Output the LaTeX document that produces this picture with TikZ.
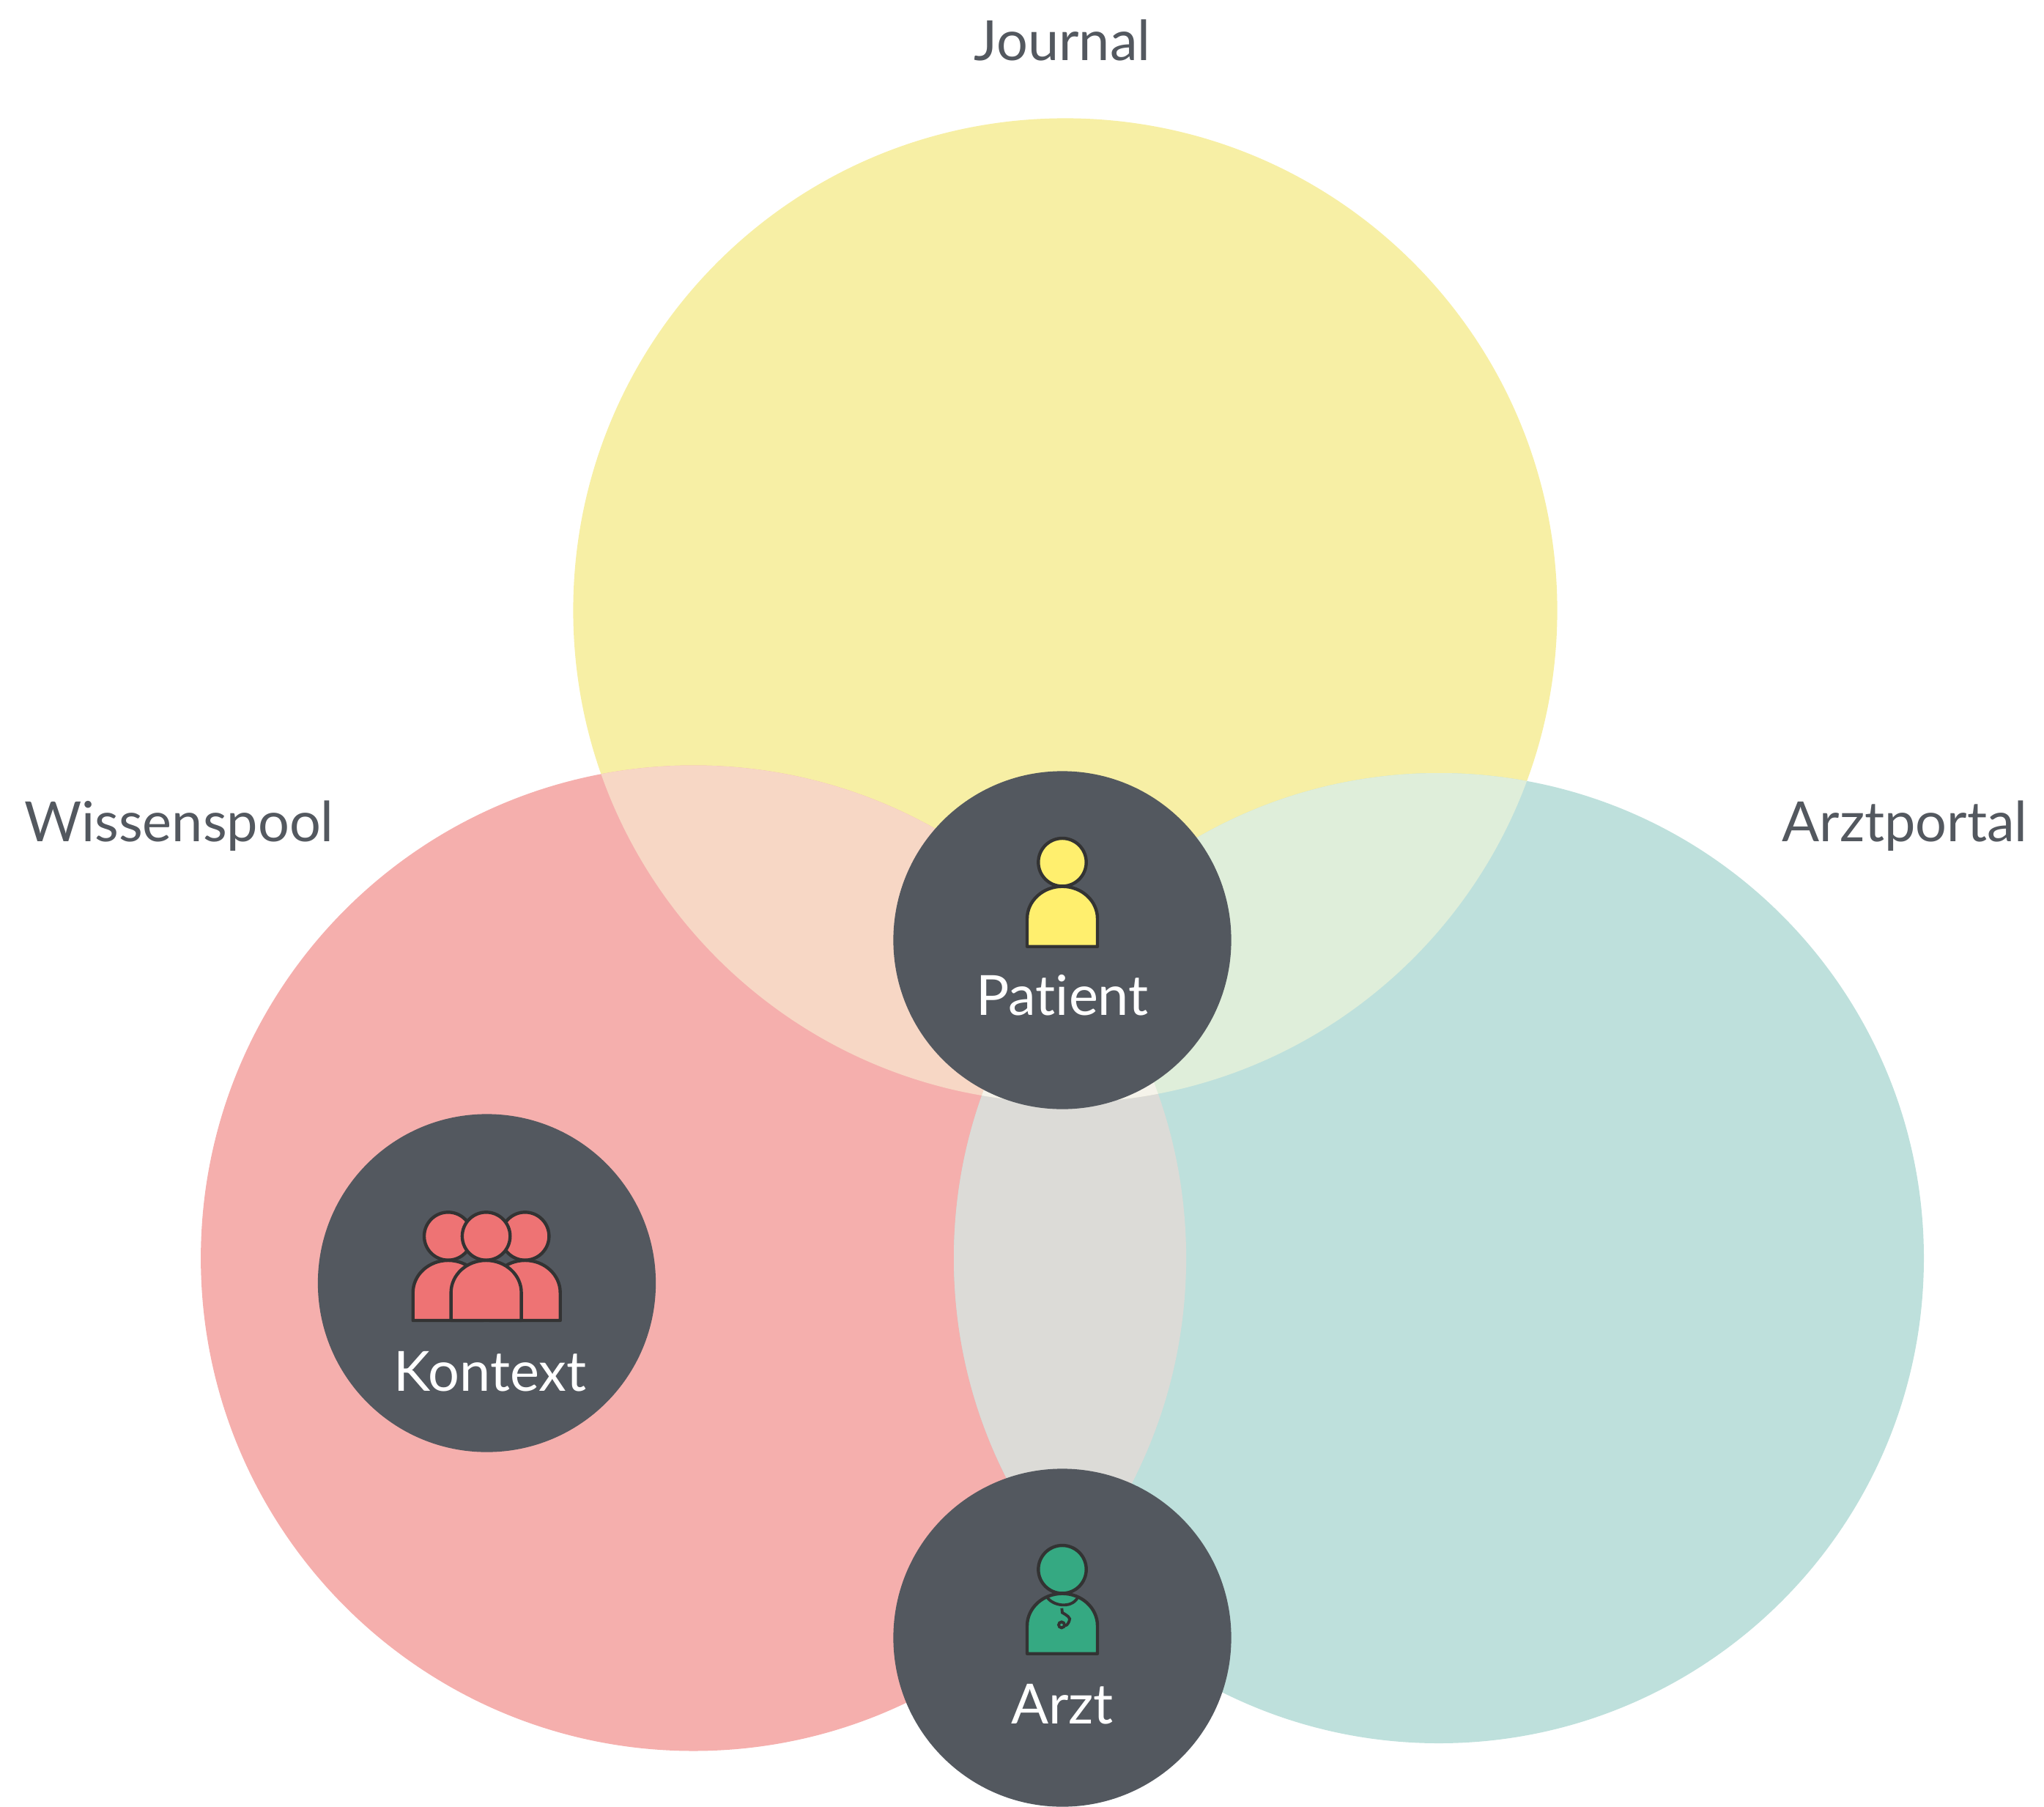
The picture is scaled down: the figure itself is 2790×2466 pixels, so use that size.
\documentclass[tikz,border=0pt]{standalone}
\usepackage{fontspec}
\setmainfont[Ligatures=NoCommon]{Lato}
\usepackage{xcolor}
\definecolor{journalc}{HTML}{F7EFA5}
\definecolor{poolc}{HTML}{F5AFAD}
\definecolor{portalc}{HTML}{BEE0DC}
\definecolor{journalpool}{HTML}{F7D7C5}
\definecolor{journalportal}{HTML}{DFEEDA}
\definecolor{poolportal}{HTML}{DCDBD7}
\definecolor{allthree}{HTML}{F5F3EA}
\definecolor{slate}{HTML}{53585F}
\definecolor{iconline}{HTML}{333333}
\definecolor{iconyellow}{HTML}{FFEF6E}
\definecolor{iconred}{HTML}{EE7374}
\definecolor{icongreen}{HTML}{35A982}

\begin{document}
\begin{tikzpicture}[x=0.01cm, y=-0.01cm]
  \tikzset{
    person/.pic={
      \path[pic actions, draw=iconline, line width=1.25pt, line join=round] (0,0) circle (32.7);
      \path[pic actions, draw=iconline, line width=1.25pt, line join=round] (-48,115) -- (-48,77) arc (180:360:48 and 44) -- (48,115) -- cycle;
    },
    hub/.style={circle, fill=slate, minimum size=4.61cm, inner sep=0pt},
    outer label/.style={anchor=base, text=slate, font=\fontsize{21.5}{24}\selectfont},
    hub label/.style={anchor=base, text=white, font=\fontsize{21.5}{24}\selectfont}
  }
  \useasboundingbox (0,0) rectangle (2790,2466);

  % big circles
  \def\journalpath{(1454,833) circle (671.6)}
  \def\poolpath{(946.6,1717) circle (672.5)}
  \def\portalpath{(1964,1717) circle (662)}
  \fill[journalc] \journalpath;
  \fill[poolc] \poolpath;
  \fill[portalc] \portalpath;
  \begin{scope}
    \clip \poolpath;
    \fill[poolportal] \portalpath;
  \end{scope}
  \begin{scope}
    \clip \journalpath;
    \fill[journalpool] \poolpath;
    \fill[journalportal] \portalpath;
    \clip \poolpath;
    \fill[allthree] \portalpath;
  \end{scope}

  % hubs
  \node[hub] (patient) at (1450,1283) {};
  \node[hub] (kontext) at (664.5,1751) {};
  \node[hub] (arzt) at (1450,2235) {};

  % icons
  \pic[fill=iconyellow] at (1450,1176.7) {person};
  \pic[fill=iconred] at (611.7,1687) {person};
  \pic[fill=iconred] at (716.7,1687) {person};
  \pic[fill=iconred] at (663.6,1687) {person};
  \pic[fill=icongreen] at (1450,2141.7) {person};
  \begin{scope}[shift={(1450,2141.7)}, draw=iconline, line width=1.1pt]
    \draw (-21.7,36.7) .. controls (-14,50) and (12,54) .. (20.7,39);
    \draw (-0.7,53) -- (0,59) .. controls (5,62) and (13,66) .. (9.3,71) .. controls (7,76) and (5,77) .. (3,77);
    \draw (-1,75.7) circle (4);
  \end{scope}

  % labels
  \node[hub label] (patient text) at (1450,1385) {Patient};
  \node[hub label] (kontext text) at (669,1898) {Kontext};
  \node[hub label] (arzt text) at (1450,2352) {Arzt};
  \node[outer label] (journal text) at (1450,82) {Journal};
  \node[outer label] (pool text) at (244.5,1148) {Wissenspool};
  \node[outer label] (portal text) at (2600,1148) {Arztportal};
\end{tikzpicture}
\end{document}
